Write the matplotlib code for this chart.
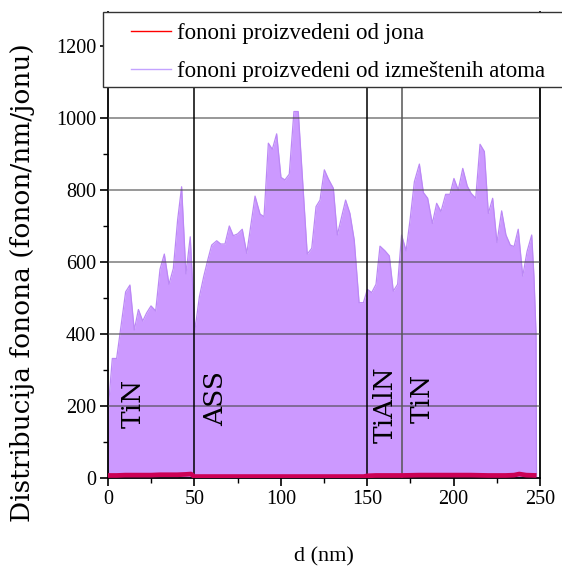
import numpy as np
import matplotlib
matplotlib.use("Agg")
import matplotlib.pyplot as plt
from matplotlib.lines import Line2D
from matplotlib.patches import Rectangle
from matplotlib.ticker import MultipleLocator

# fononi proizvedeni od izmeštenih atoma (ljubičasta površina)
d_atoms = [0, 0.5, 2.5, 5, 10.2, 12.7, 15.2, 17.6, 20.1, 22.4, 24.9, 27.6, 30.1, 32.6,
           35.3, 37.8, 40.3, 42.6, 45.1, 47.6, 50.3, 52.9, 55.4, 57.7, 60, 62.9, 65.2,
           67.7, 70.2, 72.5, 75, 77.7, 80.3, 85.1, 88, 90.3, 92.8, 95.1, 97.6, 100.1,
           102.4, 104.9, 107.6, 110.1, 115.3, 117.9, 120.4, 122.7, 125.2, 127.6, 130.4,
           132.7, 137.5, 140, 142.5, 145.3, 147.8, 150.1, 152.6, 155.1, 157.4, 160.3,
           162.8, 165.1, 167.6, 169.9, 172.5, 174.8, 177.3, 180.2, 182.5, 185, 187.7,
           190.2, 192.7, 195.4, 197.9, 200.2, 202.7, 205.3, 207.9, 210.1, 212.8, 215.3,
           217.8, 220.1, 222.6, 225.1, 227.8, 230.3, 232.8, 235, 237.4, 240, 242.5,
           245.2, 246.5, 247.7, 248]
v_atoms = [0, 215, 332, 332, 517, 536, 411, 468, 436, 459, 478, 464, 580, 622,
           538, 582, 717, 809, 567, 670, 411, 504, 560, 605, 647, 659, 650,
           650, 700, 673, 678, 691, 624, 783, 733, 726, 930, 913, 956, 835,
           828, 844, 1018, 1018, 622, 638, 754, 772, 856, 830, 805,
           675, 772, 735, 661, 487, 487, 524, 515, 538, 644, 631,
           617, 519, 538, 675, 631, 717, 823, 872, 793, 777, 707,
           763, 740, 788, 788, 832, 800, 860, 811, 791, 777, 927,
           907, 735, 777, 654, 742, 675, 647, 643, 691, 561, 629,
           675, 560, 403, 0]

# fononi proizvedeni od jona (crvena linija)
d_ions = [0, 5, 10, 15, 20, 25, 30, 35, 40, 45, 48, 50, 60, 70, 80, 90, 100, 110, 120,
          130, 140, 148, 150, 155, 160, 170, 180, 190, 200, 210, 220, 230, 235, 238,
          242, 248]
v_ions = [7, 7, 8, 8, 8, 8, 9, 9, 9, 10, 11, 4, 4, 4, 4, 4, 4, 4, 4,
          4, 4, 4, 6, 7, 7, 7, 8, 8, 8, 8, 7, 7, 8, 11, 8, 7]

layer_edges = [50, 150, 170]
layer_colors = ["black", "black", "#555555"]
layer_names = ["TiN", "ASS", "TiAlN", "TiN"]
layer_pos = [(14.5, 208), (62, 222), (160.3, 205), (181.7, 221)]

serif = ["Liberation Serif", "DejaVu Serif"]
plt.rcParams["font.family"] = serif

W, H = 562, 572
fig = plt.figure(figsize=(W / 100, H / 100), dpi=100)
ax = fig.add_axes([108 / W, 94 / H, 432 / W, 466 / H])

ax.fill_between(d_atoms, v_atoms, 0, color="#cc99ff", lw=0, zorder=1)
ax.plot(d_atoms, v_atoms, color="#bb88f5", lw=0.9, zorder=2)
ax.plot(d_ions, v_ions, color="#cc0055", lw=3.4, zorder=4, solid_capstyle="butt")

for y in range(200, 1300, 200):
    ax.axhline(y, color="#444444", lw=1.1, alpha=0.7, zorder=3)
for x, c in zip(layer_edges, layer_colors):
    ax.axvline(x, color=c, lw=1.1, zorder=3)

for name, (x, y) in zip(layer_names, layer_pos):
    ax.text(x, y, name, rotation=90, ha="center", va="center", fontsize=19,
            family="DejaVu Serif", zorder=5)

ax.set_xlim(0, 250)
ax.set_ylim(0, 466 / 0.36)
ax.xaxis.set_major_locator(MultipleLocator(50))
ax.xaxis.set_minor_locator(MultipleLocator(25))
ax.yaxis.set_minor_locator(MultipleLocator(100))
ax.set_yticks(range(0, 1201, 200))
ax.tick_params(which="major", direction="out", length=5.5, width=1.2, labelsize=14.5, pad=3)
ax.tick_params(which="minor", direction="out", length=3.5, width=1.0)
for s in ax.spines.values():
    s.set_linewidth(1.3)
ax.spines["top"].set_visible(False)

ax.set_xlabel("d (nm)", fontsize=16, labelpad=28)
fig.text(23 / W, 1 - 283 / H, "Distribucija fonona (fonon/nm/jonu)", rotation=90,
         ha="center", va="center", fontsize=19, family="DejaVu Serif")

# legend box (runs off the right edge, as in the original)
box = Rectangle((103 / W, 1 - 87 / H), 470 / W, 75 / H, transform=fig.transFigure,
                facecolor="white", edgecolor="#333333", lw=1.0, zorder=5)
fig.add_artist(box)
handles = [Line2D([], [], color="#ff0000", lw=1),
           Line2D([], [], color="#c3a3ff", lw=1)]
leg = fig.legend(handles, ["fononi proizvedeni od jona",
                           "fononi proizvedeni od izmeštenih atoma"],
                 loc="upper left", bbox_to_anchor=(131 / W, 1 - 23 / H),
                 fontsize=16.5, frameon=False, handlelength=1.75, handletextpad=0.25,
                 borderpad=0, labelspacing=0.75, borderaxespad=0)
leg.set_zorder(6)

fig.savefig("out.png", dpi=100)
